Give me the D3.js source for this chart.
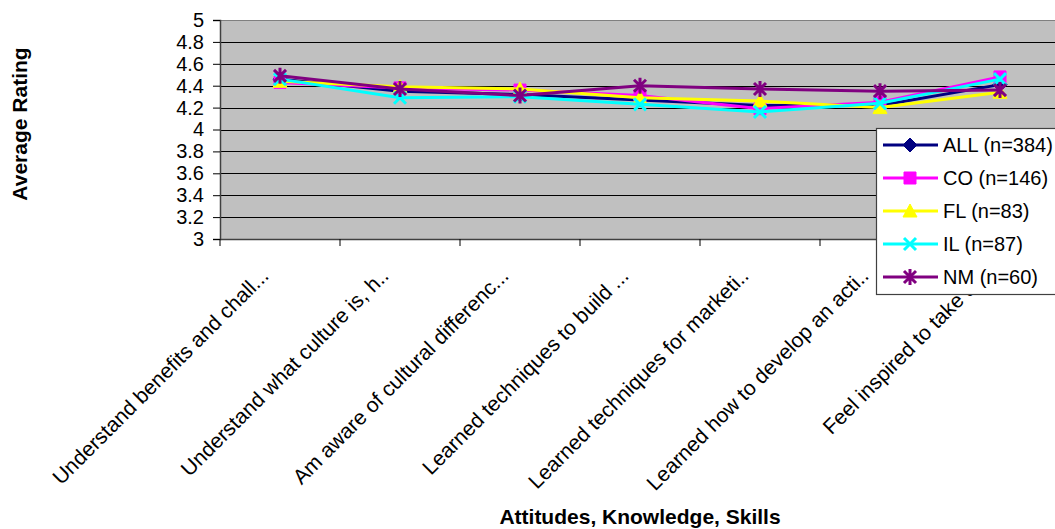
<!DOCTYPE html>
<html>
<head>
<meta charset="utf-8">
<script src="https://cdn.jsdelivr.net/npm/d3@7"></script>
<style>
  html, body { margin: 0; padding: 0; background: #fff; }
  svg { display: block; font-family: "Liberation Sans", Arial, sans-serif; }
</style>
</head>
<body>
<svg id="chart" width="1055" height="529"></svg>
<script>
// Survey items (category axis)
const categories = [
  "Understand benefits and chall...",
  "Understand what culture is, h..",
  "Am aware of cultural differenc...",
  "Learned techniques to build ...",
  "Learned techniques for marketi..",
  "Learned how to develop an acti..",
  "Feel inspired to take a..."
];

// Average rating per group
const seriesNames = ["ALL (n=384)", "CO (n=146)", "FL (n=83)", "IL (n=87)", "NM (n=60)"];
const valuesALL = [4.46, 4.35, 4.32, 4.27, 4.22, 4.22, 4.41];
const valuesCO  = [4.43, 4.38, 4.36, 4.31, 4.19, 4.25, 4.48];
const valuesFL  = [4.44, 4.39, 4.37, 4.29, 4.26, 4.20, 4.34];
const valuesIL  = [4.46, 4.29, 4.30, 4.23, 4.16, 4.24, 4.46];
const valuesNM  = [4.49, 4.37, 4.31, 4.40, 4.37, 4.35, 4.36];

const yTicks = [3, 3.2, 3.4, 3.6, 3.8, 4, 4.2, 4.4, 4.6, 4.8, 5];

const series = [
  { name: seriesNames[0], values: valuesALL, color: "#000080", marker: "diamond" },
  { name: seriesNames[1], values: valuesCO,  color: "#FF00FF", marker: "square" },
  { name: seriesNames[2], values: valuesFL,  color: "#FFFF00", marker: "triangle" },
  { name: seriesNames[3], values: valuesIL,  color: "#00FFFF", marker: "x" },
  { name: seriesNames[4], values: valuesNM,  color: "#800080", marker: "star" }
];

const svg = d3.select("#chart");
const plot = { left: 220, top: 20, right: 1060, bottom: 239 };

const x = d3.scaleBand().domain(categories).range([plot.left, plot.right]).paddingInner(0).paddingOuter(0);
const y = d3.scaleLinear().domain([3, 5]).range([plot.bottom, plot.top]);
const cx = c => x(c) + x.bandwidth() / 2;

// plot background
svg.append("rect")
  .attr("x", plot.left).attr("y", plot.top)
  .attr("width", plot.right - plot.left).attr("height", plot.bottom - plot.top)
  .attr("fill", "#C0C0C0");

// horizontal gridlines
svg.append("g").selectAll("line")
  .data(yTicks.filter(t => t > 3))
  .join("line")
  .attr("x1", plot.left).attr("x2", plot.right)
  .attr("y1", d => Math.round(y(d)) + 0.5).attr("y2", d => Math.round(y(d)) + 0.5)
  .attr("stroke", d => d === 5 ? "#808080" : "#000")
  .attr("stroke-width", 1);

// value axis
const yAxis = svg.append("g")
  .attr("transform", `translate(${plot.left},0)`)
  .call(d3.axisLeft(y).tickValues(yTicks).tickSize(7).tickPadding(9).tickFormat(d3.format("")));
yAxis.select(".domain").attr("stroke", "#404040").attr("stroke-width", 1.5);
yAxis.selectAll(".tick line").attr("stroke", "#000");
yAxis.selectAll(".tick text")
  .attr("font-size", 20).attr("fill", "#000")
  .attr("font-family", "Liberation Sans, Arial, sans-serif");

// category axis
const xAxis = svg.append("g")
  .attr("transform", `translate(0,${plot.bottom})`)
  .call(d3.axisBottom(x).tickSize(0).tickFormat(""));
xAxis.select(".domain").attr("stroke", "#404040").attr("stroke-width", 1.5);

// category boundary ticks
svg.append("g").selectAll("line")
  .data(d3.range(categories.length + 1))
  .join("line")
  .attr("x1", i => plot.left + i * x.bandwidth()).attr("x2", i => plot.left + i * x.bandwidth())
  .attr("y1", plot.bottom).attr("y2", plot.bottom + 7)
  .attr("stroke", "#000");

// rotated category labels
svg.append("g").selectAll("text")
  .data(categories)
  .join("text")
  .attr("transform", d => `translate(${cx(d) - 10},${plot.bottom + 38}) rotate(-45)`)
  .attr("text-anchor", "end")
  .attr("font-size", 21)
  .attr("fill", "#000")
  .text(d => d);

// series lines
const line = d3.line().x((v, i) => cx(categories[i])).y(v => y(v));

const markerPath = (type) => {
  const s = 6;
  switch (type) {
    case "diamond": return `M0,${-s - 1}L${s + 1},0L0,${s + 1}L${-s - 1},0Z`;
    case "square": return `M${-s},${-s}H${s}V${s}H${-s}Z`;
    case "triangle": return `M0,${-s - 1}L${s + 1},${s}L${-s - 1},${s}Z`;
    case "x": return `M${-s},${-s}L${s},${s}M${s},${-s}L${-s},${s}`;
    case "star": return `M${-s},${-s}L${s},${s}M${s},${-s}L${-s},${s}M0,${-s - 2}V${s + 2}`;
  }
};
const filled = t => t === "diamond" || t === "square" || t === "triangle";

series.forEach(s => {
  const g = svg.append("g");
  g.append("path")
    .datum(s.values)
    .attr("d", line)
    .attr("fill", "none")
    .attr("stroke", s.color)
    .attr("stroke-width", 3);
  g.selectAll("path.mk")
    .data(s.values)
    .join("path")
    .attr("class", "mk")
    .attr("transform", (v, i) => `translate(${cx(categories[i])},${y(v)})`)
    .attr("d", markerPath(s.marker))
    .attr("fill", filled(s.marker) ? s.color : "none")
    .attr("stroke", s.color)
    .attr("stroke-width", filled(s.marker) ? 1 : 3);
});

// legend
const legend = svg.append("g").attr("transform", "translate(876,128)");
legend.append("rect")
  .attr("x", 0.5).attr("y", 0.5)
  .attr("width", 200).attr("height", 166)
  .attr("fill", "#fff").attr("stroke", "#404040").attr("stroke-width", 1.2);
series.forEach((s, i) => {
  const ly = 17 + i * 33;
  const item = legend.append("g").attr("transform", `translate(0,${ly})`);
  item.append("line").attr("x1", 7).attr("x2", 62).attr("y1", 0).attr("y2", 0)
    .attr("stroke", s.color).attr("stroke-width", 3);
  item.append("path")
    .attr("transform", "translate(34,0)")
    .attr("d", markerPath(s.marker))
    .attr("fill", filled(s.marker) ? s.color : "none")
    .attr("stroke", s.color)
    .attr("stroke-width", filled(s.marker) ? 1 : 3);
  item.append("text")
    .attr("x", 67).attr("y", 7)
    .attr("font-size", 20)
    .attr("fill", "#000")
    .text(s.name);
});

// axis titles
svg.append("text")
  .attr("transform", `translate(27,124) rotate(-90)`)
  .attr("text-anchor", "middle")
  .attr("font-size", 21).attr("font-weight", "bold")
  .text("Average Rating");

svg.append("text")
  .attr("x", (plot.left + plot.right) / 2).attr("y", 524)
  .attr("text-anchor", "middle")
  .attr("font-size", 21).attr("font-weight", "bold")
  .text("Attitudes, Knowledge, Skills");
</script>
</body>
</html>
